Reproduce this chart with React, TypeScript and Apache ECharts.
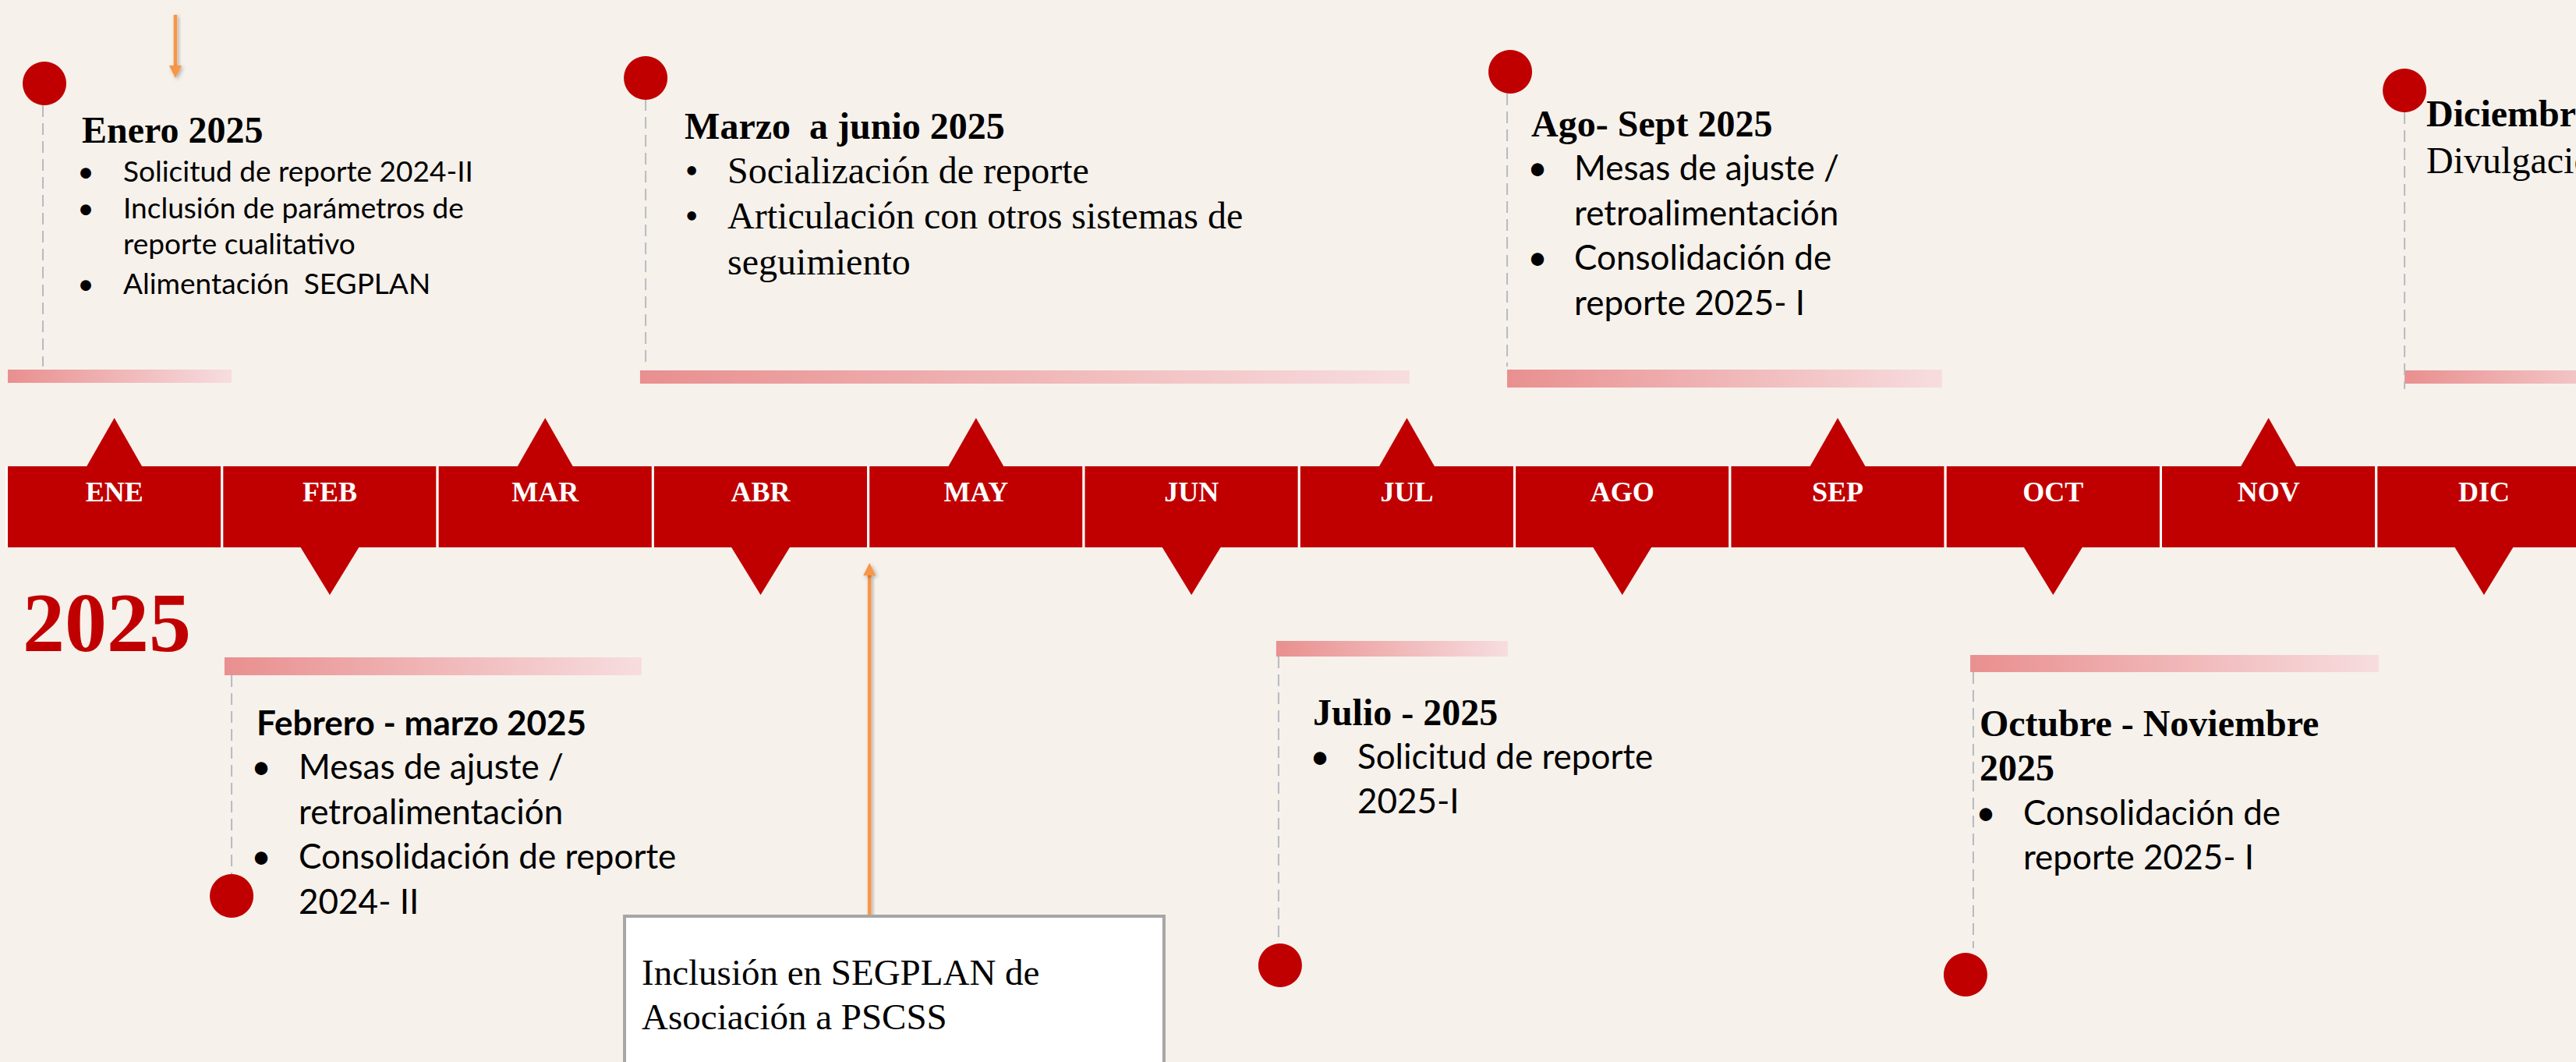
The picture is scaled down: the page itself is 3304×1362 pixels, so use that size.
import React, { useEffect, useRef } from 'react';
import * as echarts from 'echarts';

// ---------- DATA ----------
const months = ['ENE', 'FEB', 'MAR', 'ABR', 'MAY', 'JUN', 'JUL', 'AGO', 'SEP', 'OCT', 'NOV', 'DIC'];
const monthPointer = ['up', 'down', 'up', 'down', 'up', 'down', 'up', 'down', 'up', 'down', 'up', 'down'];
const yearLabel = '2025';

const eventTitles: string[][] = [
  ['Enero 2025'],
  ['Febrero - marzo 2025'],
  ['Marzo  a junio 2025'],
  ['Julio - 2025'],
  ['Ago- Sept 2025'],
  ['Octubre - Noviembre', '2025'],
  ['Diciembre 2025'],
];
// [bullet, text]
const eventItems: [string, string][][] = [
  [['•', 'Solicitud de reporte 2024-II'], ['•', 'Inclusión de parámetros de'], ['', 'reporte cualitativo'], ['•', 'Alimentación  SEGPLAN']],
  [['•', 'Mesas de ajuste /'], ['', 'retroalimentación'], ['•', 'Consolidación de reporte'], ['', '2024- II']],
  [['•', 'Socialización de reporte'], ['•', 'Articulación con otros sistemas de'], ['', 'seguimiento']],
  [['•', 'Solicitud de reporte'], ['', '2025-I']],
  [['•', 'Mesas de ajuste /'], ['', 'retroalimentación'], ['•', 'Consolidación de'], ['', 'reporte 2025- I']],
  [['•', 'Consolidación de'], ['', 'reporte 2025- I']],
  [['', 'Divulgación']],
];
// positions on the month axis (0 = start of ENE, 12 = end of DIC)
const eventStart = [0, 1.006, 2.935, 5.888, 6.96, 9.11, 11.126];
const eventEnd = [1.039, 2.942, 6.507, 6.963, 8.979, 11.006, 12.3];
const eventMarker = [0.163, 1.039, 2.961, 5.899, 6.96, 9.124, 11.126];
const eventSide = ['top', 'bottom', 'top', 'bottom', 'top', 'bottom', 'top'];

const noteLines = ['Inclusión en SEGPLAN de', 'Asociación a PSCSS'];
const noteStart = [2.863];
const noteEnd = [5.367];
const noteArrowAt = [4.0];
const topArrowAt = [0.778];

// ---------- STYLE / LAYOUT ----------
const BG = '#F6F1EB';
const RED = '#C00000';
const ORANGE = '#F79646';
const SERIF = "'Liberation Serif', 'Times New Roman', serif";
const SANS = "Lato, 'Open Sans', sans-serif";
const K_SERIF = 0.3375;
const K_SANS = 0.36;

const GRID_LEFT = 10;
const MONTH_PX = 276.3;
const X_MAX = (3304 - GRID_LEFT) / MONTH_PX;

const BOX_TOP = 598;
const BOX_BOTTOM = 702;
const GAP = 3;

type Layout = {
  circleY: number; circleDx: number; dash: [number, number]; barY: number; barH: number;
  titleDx: number; titleY: number[]; titleFamily: string; titleSize: number;
  bulletDx: number; textDx: number; lineY: number[]; family: string; size: number;
};
const eventLayout: Layout[] = [
  { circleY: 107, circleDx: 2, dash: [135, 470], barY: 474, barH: 17, titleDx: 50, titleY: [183], titleFamily: SERIF, titleSize: 48, bulletDx: 55, textDx: 103, lineY: [232, 279, 325, 376], family: SANS, size: 37 },
  { circleY: 1149, circleDx: 0, dash: [866, 1121], barY: 843, barH: 23, titleDx: 32, titleY: [942], titleFamily: SANS, titleSize: 44, bulletDx: 38, textDx: 86, lineY: [998, 1056, 1113, 1171], family: SANS, size: 44 },
  { circleY: 100, circleDx: 0, dash: [127, 470], barY: 475, barH: 17, titleDx: 50, titleY: [178], titleFamily: SERIF, titleSize: 48, bulletDx: 59, textDx: 105, lineY: [235, 293, 352], family: SERIF, size: 48 },
  { circleY: 1238, circleDx: 2, dash: [842, 1210], barY: 822, barH: 20, titleDx: 44, titleY: [930], titleFamily: SERIF, titleSize: 48, bulletDx: 53, textDx: 101, lineY: [985, 1042], family: SANS, size: 44 },
  { circleY: 92, circleDx: 4, dash: [120, 470], barY: 474, barH: 23, titleDx: 31, titleY: [175], titleFamily: SERIF, titleSize: 48, bulletDx: 39, textDx: 86, lineY: [230, 288, 345, 403], family: SANS, size: 44 },
  { circleY: 1250, circleDx: -10, dash: [862, 1216], barY: 840, barH: 22, titleDx: 8, titleY: [944, 1001], titleFamily: SERIF, titleSize: 48, bulletDx: 16, textDx: 64, lineY: [1057, 1114], family: SANS, size: 44 },
  { circleY: 116, circleDx: 0, dash: [144, 499], barY: 475, barH: 17, titleDx: 28, titleY: [162], titleFamily: SERIF, titleSize: 48, bulletDx: 0, textDx: 28, lineY: [222], family: SERIF, size: 48 },
];

function textEl(text: string, x: number, baseline: number, size: number, family: string, weight: string, fill: string, align = 'left') {
  const k = family === SANS ? K_SANS : K_SERIF;
  return {
    type: 'text',
    style: {
      text, x, y: baseline - k * size,
      fill, fontSize: size, fontFamily: family, fontWeight: weight,
      align, textAlign: align, verticalAlign: 'middle', textVerticalAlign: 'middle',
    },
  };
}

function renderMonth(params: any, api: any) {
  const i = api.value(0);
  const [x0, yT] = api.coord([i, BOX_TOP]);
  const [x1, yB] = api.coord([i + 1, BOX_BOTTOM]);
  const w = x1 - x0 - GAP;
  const cx = x0 + w / 2;
  const up = monthPointer[params.dataIndex] === 'up';
  const tri = up
    ? [[cx - 36, yT + 1], [cx + 36, yT + 1], [cx, 536]]
    : [[cx - 38, yB - 1], [cx + 38, yB - 1], [cx, 763]];
  return {
    type: 'group',
    children: [
      { type: 'rect', shape: { x: x0 - GAP, y: yT, width: x1 - x0 + GAP, height: yB - yT }, style: { fill: '#FFFFFF' } },
      { type: 'rect', shape: { x: x0, y: yT, width: w, height: yB - yT }, style: { fill: RED } },
      { type: 'polygon', shape: { points: tri }, style: { fill: RED } },
      textEl(months[params.dataIndex], cx, 643, 36, SERIF, 'bold', '#FFFFFF', 'center'),
    ],
  };
}

function renderEvent(params: any, api: any) {
  const idx = params.dataIndex;
  const L = eventLayout[idx];
  const [xs] = api.coord([api.value(0), 0]);
  const [xe] = api.coord([api.value(1), 0]);
  const [xm] = api.coord([api.value(2), 0]);
  const children: any[] = [
    {
      type: 'rect',
      shape: { x: xs, y: L.barY, width: xe - xs, height: L.barH },
      style: {
        fill: new echarts.graphic.LinearGradient(0, 0, 1, 0, [
          { offset: 0, color: '#E98F8F' },
          { offset: 1, color: '#F7DDDF' },
        ]),
      },
    },
    {
      type: 'line',
      shape: { x1: xm, y1: L.dash[0], x2: xm, y2: L.dash[1] },
      style: { stroke: '#B7BAC2', lineWidth: 2, lineDash: [15, 8] },
    },
    { type: 'circle', shape: { cx: xm + L.circleDx, cy: L.circleY, r: 28 }, style: { fill: RED } },
  ];
  eventTitles[idx].forEach((t, j) => {
    children.push(textEl(t, xm + L.titleDx, L.titleY[j], L.titleSize, L.titleFamily, 'bold', '#000000'));
  });
  eventItems[idx].forEach(([b, t], j) => {
    if (b) children.push(textEl(b, xm + L.bulletDx, L.lineY[j], L.size, L.family, 'normal', '#000000', 'center'));
    children.push(textEl(t, xm + L.textDx, L.lineY[j], L.size, L.family, 'normal', '#000000'));
  });
  return { type: 'group', children };
}

function arrow(x: number, tail: number, tip: number) {
  const dir = tip < tail ? -1 : 1;
  const headBase = tip - dir * 16;
  const shadow = { shadowBlur: 5, shadowColor: 'rgba(0,0,0,0.3)', shadowOffsetX: 2, shadowOffsetY: 2 };
  const y0 = Math.min(tail, headBase);
  const y1 = Math.max(tail, headBase);
  return [
    { type: 'rect', shape: { x: x - 2.25, y: y0, width: 4.5, height: y1 - y0 }, style: { fill: ORANGE, ...shadow } },
    { type: 'polygon', shape: { points: [[x - 8, headBase], [x + 8, headBase], [x, tip]] }, style: { fill: ORANGE, ...shadow } },
  ];
}

function renderNote(params: any, api: any) {
  const [xs] = api.coord([api.value(0), 0]);
  const [xe] = api.coord([api.value(1), 0]);
  const [xa] = api.coord([api.value(2), 0]);
  const [xt] = api.coord([api.value(3), 0]);
  const children: any[] = [
    ...arrow(xt, 19, 100),
    ...arrow(xa, 1175, 722),
    { type: 'rect', shape: { x: xs, y: 1175, width: xe - xs, height: 260 }, style: { fill: '#FFFFFF', stroke: '#A6A6A6', lineWidth: 4 } },
  ];
  noteLines.forEach((t, j) => {
    children.push(textEl(t, xs + 22, 1263 + j * 57, 47, SERIF, 'normal', '#000000'));
  });
  return { type: 'group', children };
}

export default function App() {
  const ref = useRef<HTMLDivElement>(null);
  useEffect(() => {
    if (!ref.current) return;
    const chart = echarts.init(ref.current, undefined, { renderer: 'svg' });
    chart.setOption({
      animation: false,
      backgroundColor: BG,
      grid: { left: GRID_LEFT, right: 0, top: 0, bottom: 0 },
      xAxis: { type: 'value', min: 0, max: X_MAX, show: false },
      yAxis: { type: 'value', min: 0, max: 1362, inverse: true, show: false },
      graphic: [
        {
          type: 'text',
          left: 29,
          top: 841 - 108 * 0.891,
          style: { text: yearLabel, fill: RED, fontSize: 108, fontFamily: SERIF, fontWeight: 'bold' },
        },
      ],
      series: [
        {
          type: 'custom', name: 'Meses', silent: true, clip: false,
          data: months.map((_, i) => [i, i + 1]),
          renderItem: renderMonth,
        },
        {
          type: 'custom', name: 'Hitos', silent: true, clip: false,
          data: eventStart.map((s, i) => [s, eventEnd[i], eventMarker[i], eventSide[i] === 'top' ? 0 : 1]),
          renderItem: renderEvent,
        },
        {
          type: 'custom', name: 'Nota', silent: true, clip: false,
          data: [[noteStart[0], noteEnd[0], noteArrowAt[0], topArrowAt[0]]],
          renderItem: renderNote,
        },
      ],
    });
    return () => chart.dispose();
  }, []);
  return (
    <div
      ref={ref}
      style={{ position: 'fixed', left: 0, top: 0, width: 3304, height: 1362, background: BG }}
    />
  );
}
